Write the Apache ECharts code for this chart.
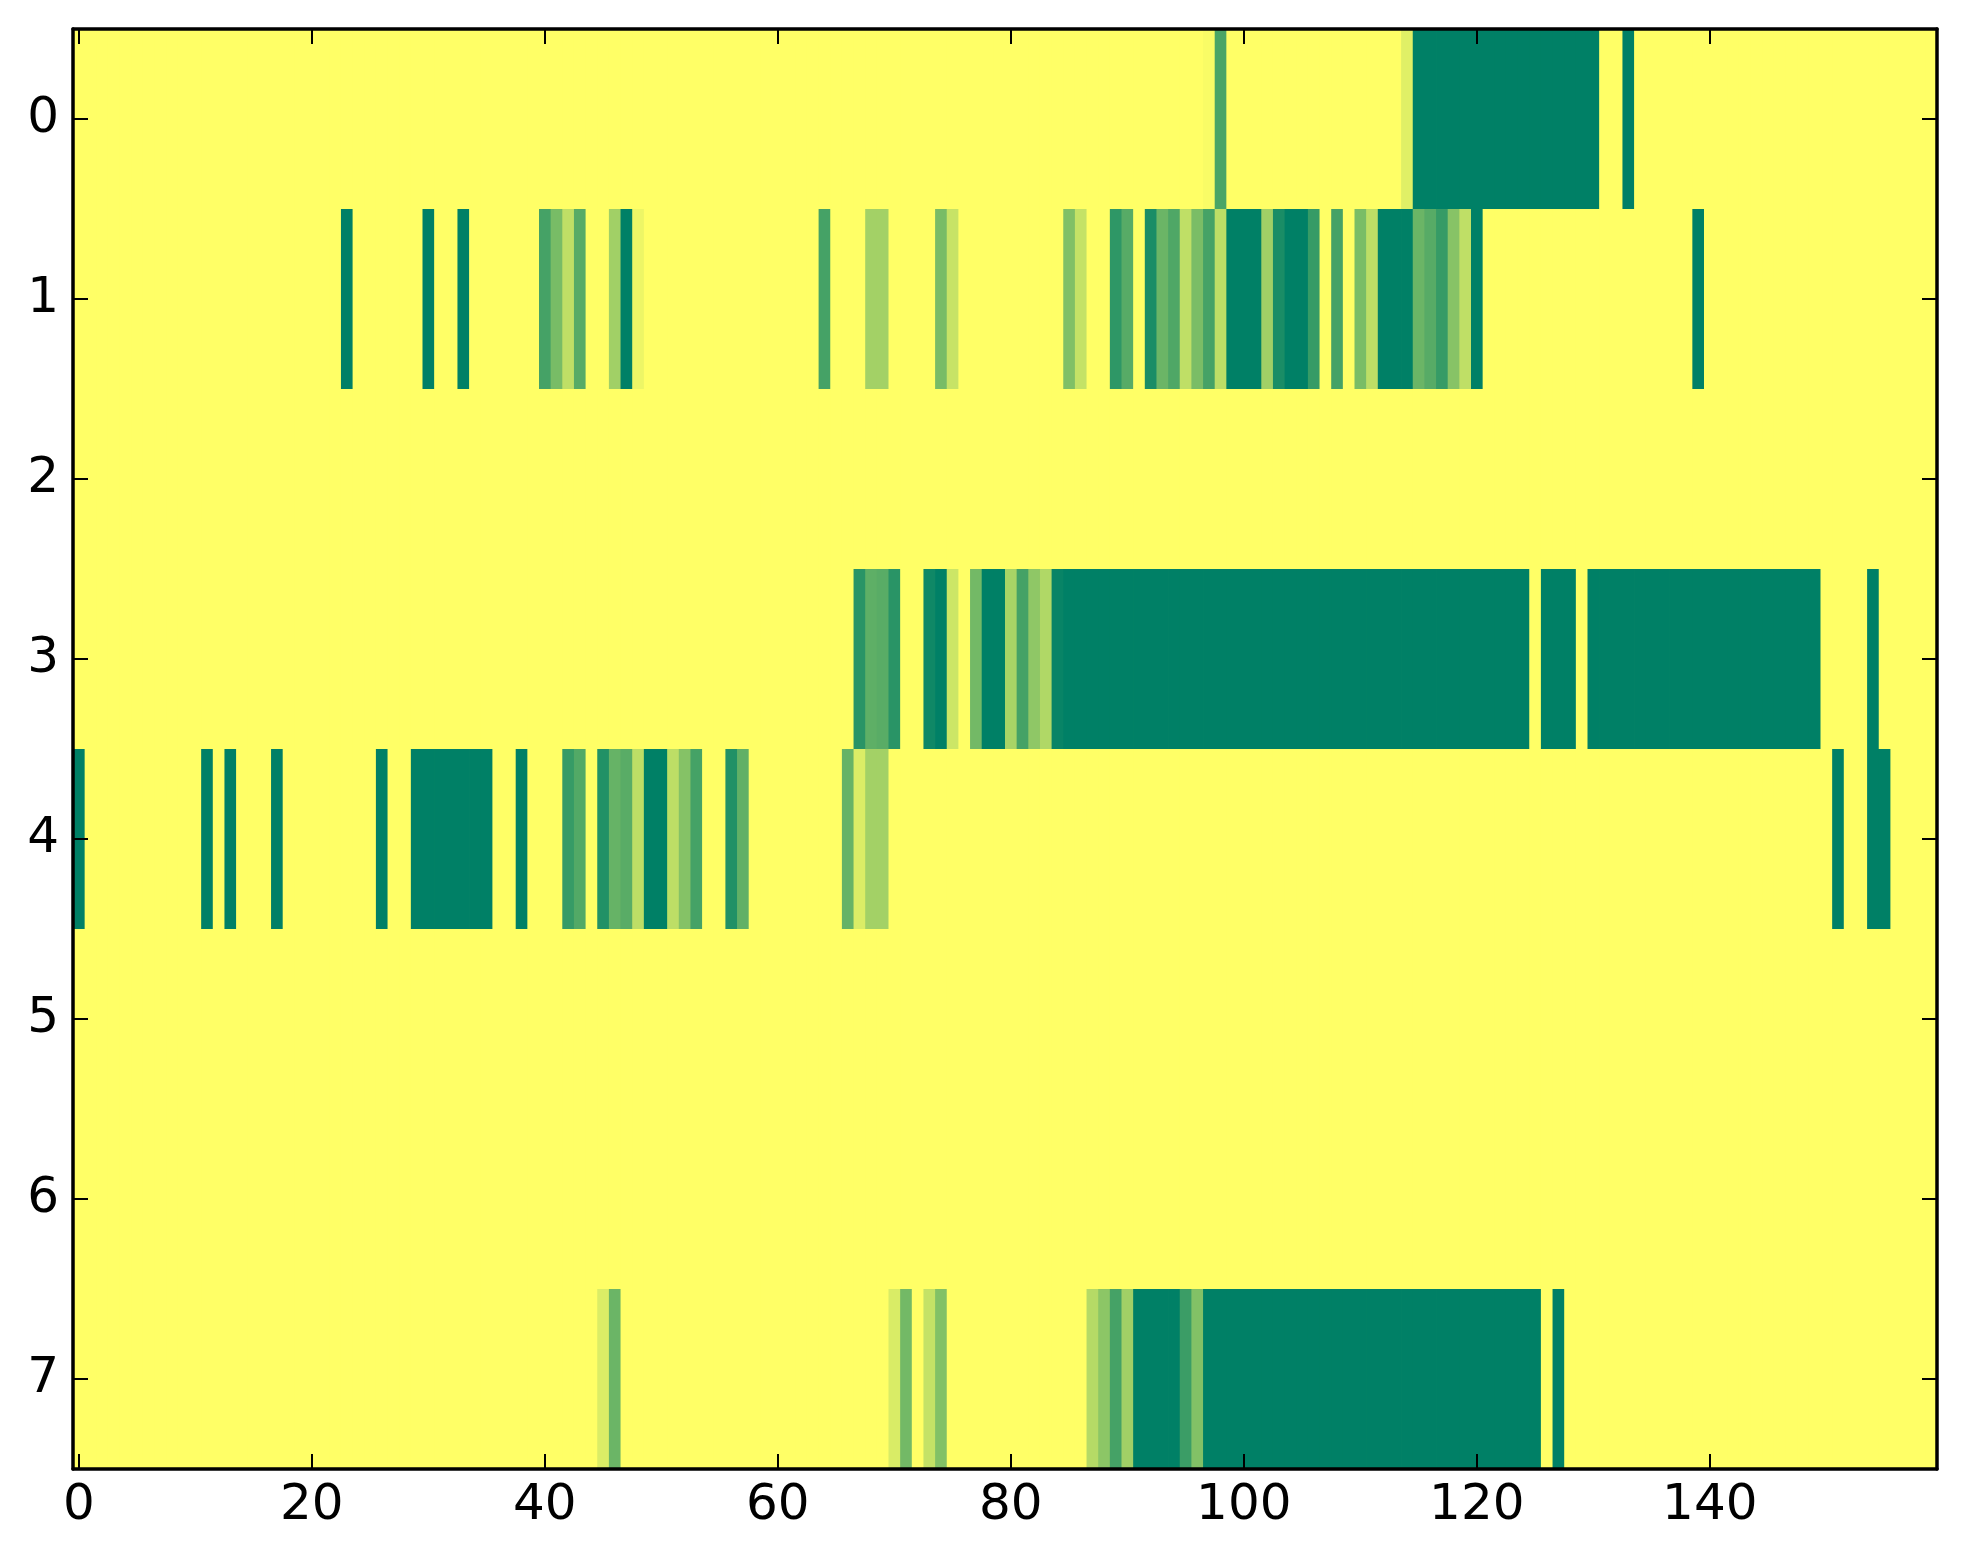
<!DOCTYPE html>
<html>
<head>
<meta charset="utf-8">
<script src="https://cdn.jsdelivr.net/npm/echarts@6/dist/echarts.min.js"></script>
<style>
html,body{margin:0;padding:0;background:#fff;}
#c{width:1963px;height:1564px;}
</style>
</head>
<body>
<div id="c"></div>
<script>
// Column count and row labels
const nCols = 160;
const rowLabels = ['0','1','2','3','4','5','6','7'];
const xTickStep = 20;

// Non-zero cells per row as [column, value]; all other cells are 0
const row0 = [[97,0.025],[98,0.71],[114,0.12],[115,1],[116,1],[117,1],[118,1],[119,1],[120,1],[121,1],[122,1],[123,1],[124,1],[125,1],[126,1],[127,1],[128,1],[129,1],[130,1],[133,1]];
const row1 = [[23,1],[30,1],[33,1],[40,0.73],[41,0.53],[42,0.25],[43,0.66],[46,0.37],[47,1],[48,0.07],[64,0.73],[68,0.36],[69,0.36],[74,0.53],[75,0.22],[85,0.5],[86,0.23],[89,0.82],[90,0.66],[92,0.9],[93,0.58],[94,0.69],[95,0.25],[96,0.52],[97,0.73],[98,0.26],[99,1],[100,1],[101,1],[102,0.37],[103,0.9],[104,1],[105,1],[106,0.79],[108,0.73],[110,0.52],[111,0.26],[112,1],[113,1],[114,1],[115,0.58],[116,0.66],[117,0.79],[118,0.47],[119,0.25],[120,1],[139,1]];
const row2 = [];
const row3 = [[67,0.84],[68,0.63],[69,0.65],[70,0.84],[73,0.94],[74,1],[75,0.2],[77,0.55],[78,1],[79,1],[80,0.34],[81,0.73],[82,0.44],[83,0.31],[84,0.97],
  [85,1],[86,1],[87,1],[88,1],[89,1],[90,1],[91,1],[92,1],[93,1],[94,1],[95,1],[96,1],[97,1],[98,1],[99,1],[100,1],[101,1],[102,1],[103,1],[104,1],[105,1],[106,1],[107,1],[108,1],[109,1],[110,1],[111,1],[112,1],[113,1],[114,1],[115,1],[116,1],[117,1],[118,1],[119,1],[120,1],[121,1],[122,1],[123,1],[124,1],
  [126,1],[127,1],[128,1],
  [130,1],[131,1],[132,1],[133,1],[134,1],[135,1],[136,1],[137,1],[138,1],[139,1],[140,1],[141,1],[142,1],[143,1],[144,1],[145,1],[146,1],[147,1],[148,1],[149,1],
  [154,1]];
const row4 = [[0,1],[11,1],[13,1],[17,1],[26,1],[29,1],[30,1],[31,1],[32,1],[33,1],[34,1],[35,1],[38,1],[42,0.79],[43,0.68],[45,0.87],[46,0.6],[47,0.65],[48,0.26],[49,1],[50,1],[51,0.26],[52,0.48],[53,0.73],[56,0.87],[57,0.62],[66,0.6],[67,0.14],[68,0.36],[69,0.36],[151,1],[154,1],[155,1]];
const row5 = [];
const row6 = [];
const row7 = [[45,0.14],[46,0.58],[70,0.15],[71,0.55],[73,0.23],[74,0.49],[87,0.29],[88,0.45],[89,0.73],[90,0.37],[91,1],[92,1],[93,1],[94,1],[95,0.77],[96,0.49],
  [97,1],[98,1],[99,1],[100,1],[101,1],[102,1],[103,1],[104,1],[105,1],[106,1],[107,1],[108,1],[109,1],[110,1],[111,1],[112,1],[113,1],[114,1],[115,1],[116,1],[117,1],[118,1],[119,1],[120,1],[121,1],[122,1],[123,1],[124,1],[125,1],[127,1]];

const rows = [row0,row1,row2,row3,row4,row5,row6,row7];
const xCats = [];
for (let i = 0; i < nCols; i++) xCats.push(String(i));

const data = [];
rows.forEach(function (row, r) {
  const m = {};
  row.forEach(function (p) { m[p[0]] = p[1]; });
  for (let c = 0; c < nCols; c++) data.push([c, r, m[c] !== undefined ? m[c] : 0]);
});

const chart = echarts.init(document.getElementById('c'), null, {renderer: 'canvas'});
const font = 'DejaVu Sans';
const tickEvery = function (i) { return i % xTickStep === 0; };
const lineStyle = {color: '#000', width: 3.5};
const tickStyle = {color: '#000', width: 2};

function renderCell(params, api) {
  const p = api.coord([api.value(0), api.value(1)]);
  const s = api.size([1, 1]);
  return {
    type: 'rect',
    shape: {x: p[0] - s[0] / 2, y: p[1] - s[1] / 2, width: s[0] + 0.8, height: s[1] + 0.8},
    style: {fill: api.visual('color'), stroke: null}
  };
}

chart.setOption({
  backgroundColor: '#fff',
  animation: false,
  grid: {left: 73, top: 29, width: 1864, height: 1440, containLabel: false, show: true, backgroundColor: '#ffff66', borderWidth: 0},
  visualMap: {show: false, min: 0, max: 1, calculable: false, dimension: 2, seriesIndex: 0, inRange: {color: ['#ffff66', '#008066']}},
  xAxis: [
    {type: 'category', data: xCats, position: 'bottom', z: 10,
     axisLine: {show: true, onZero: false, lineStyle: lineStyle},
     axisTick: {show: true, inside: true, length: 15, alignWithLabel: true, interval: tickEvery, lineStyle: tickStyle},
     axisLabel: {show: true, interval: tickEvery, margin: 12, color: '#000', fontFamily: font, fontSize: 50},
     splitLine: {show: false}},
    {type: 'category', data: xCats, position: 'top', z: 10,
     axisLine: {show: true, onZero: false, lineStyle: lineStyle},
     axisTick: {show: true, inside: true, length: 15, alignWithLabel: true, interval: tickEvery, lineStyle: tickStyle},
     axisLabel: {show: false}, splitLine: {show: false}}
  ],
  yAxis: [
    {type: 'category', data: rowLabels, inverse: true, position: 'left', z: 10,
     axisLine: {show: true, onZero: false, lineStyle: lineStyle},
     axisTick: {show: true, inside: true, length: 15, alignWithLabel: true, lineStyle: tickStyle},
     axisLabel: {show: true, margin: 14, color: '#000', fontFamily: font, fontSize: 50},
     splitLine: {show: false}},
    {type: 'category', data: rowLabels, inverse: true, position: 'right', z: 10,
     axisLine: {show: true, onZero: false, lineStyle: lineStyle},
     axisTick: {show: true, inside: true, length: 15, alignWithLabel: true, lineStyle: tickStyle},
     axisLabel: {show: false}, splitLine: {show: false}}
  ],
  series: [{
    type: 'custom',
    xAxisIndex: 0, yAxisIndex: 0,
    encode: {x: 0, y: 1},
    data: data,
    clip: true,
    renderItem: renderCell,
    emphasis: {disabled: true}
  }]
});
</script>
</body>
</html>
